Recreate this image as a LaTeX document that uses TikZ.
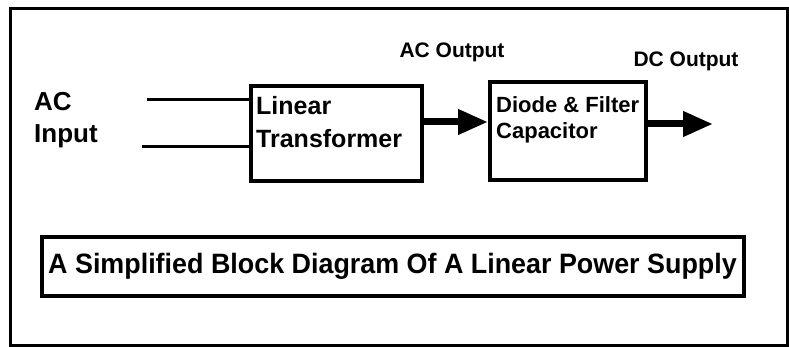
\documentclass[tikz,border=0pt]{standalone}
\usepackage{fontspec}
\setmainfont{Liberation Sans}
\newfontfamily\titlefont[FakeStretch=0.96]{Liberation Sans}
\usetikzlibrary{arrows.meta,positioning,calc}

\begin{document}
\begin{tikzpicture}[x=1pt,y=-1pt,
            bloco/.style={draw,line width=4pt,inner sep=0pt},
            rotulo/.style={inner sep=0pt,align=left},
            fio/.style={line width=3pt},
            seta/.style={line width=7pt,-{Triangle[length=30pt,width=24pt]}}
            ]
            \useasboundingbox (0,0) rectangle (789,347);
            \draw[line width=3pt] (10,9) rectangle (787,345);

            \node[bloco,minimum width=171pt,minimum height=95pt] (tr) at (336,134) {};
            \node[bloco,minimum width=156pt,minimum height=98pt] (df) at (568,131) {};
            \node[bloco,minimum width=702pt,minimum height=58pt,
            font=\fontsize{28}{30}\selectfont\titlefont\bfseries] (tit) at (392.5,266.5)
            {A Simplified Block Diagram Of A Linear Power Supply};

            \node[rotulo,anchor=north west,
            font=\fontsize{26}{32}\selectfont\bfseries] (acin) at (34,92) {AC\\Input};
            \node[rotulo,anchor=north west,
            font=\fontsize{25}{33}\selectfont\bfseries]
            (trtxt) at ([shift={(7.5pt,-11.5pt)}]tr.north west) {Linear\\Transformer};
            \node[rotulo,anchor=north west,
            font=\fontsize{22}{26}\selectfont\bfseries]
            (dftxt) at ([shift={(8pt,-16pt)}]df.north west) {Diode \& Filter\\Capacitor};
            \node[rotulo,font=\fontsize{21}{25}\selectfont\bfseries] (acout) at (452,52) {AC Output};
            \node[rotulo,font=\fontsize{21}{25}\selectfont\bfseries] (dcout) at (686,61) {DC Output};

            \coordinate (in1) at (147,100);
            \coordinate (in2) at (142,147);
            \coordinate (dc) at (713,124);

            \draw[fio] (in1) -- (in1 -| tr.west);
            \draw[fio] (in2) -- (in2 -| tr.west);
            \draw[seta] (tr.east |- 0,122) -- (df.west |- 0,122);
            \draw[seta] (df.east |- dc) -- (dc);
          \end{tikzpicture}
\end{document}
